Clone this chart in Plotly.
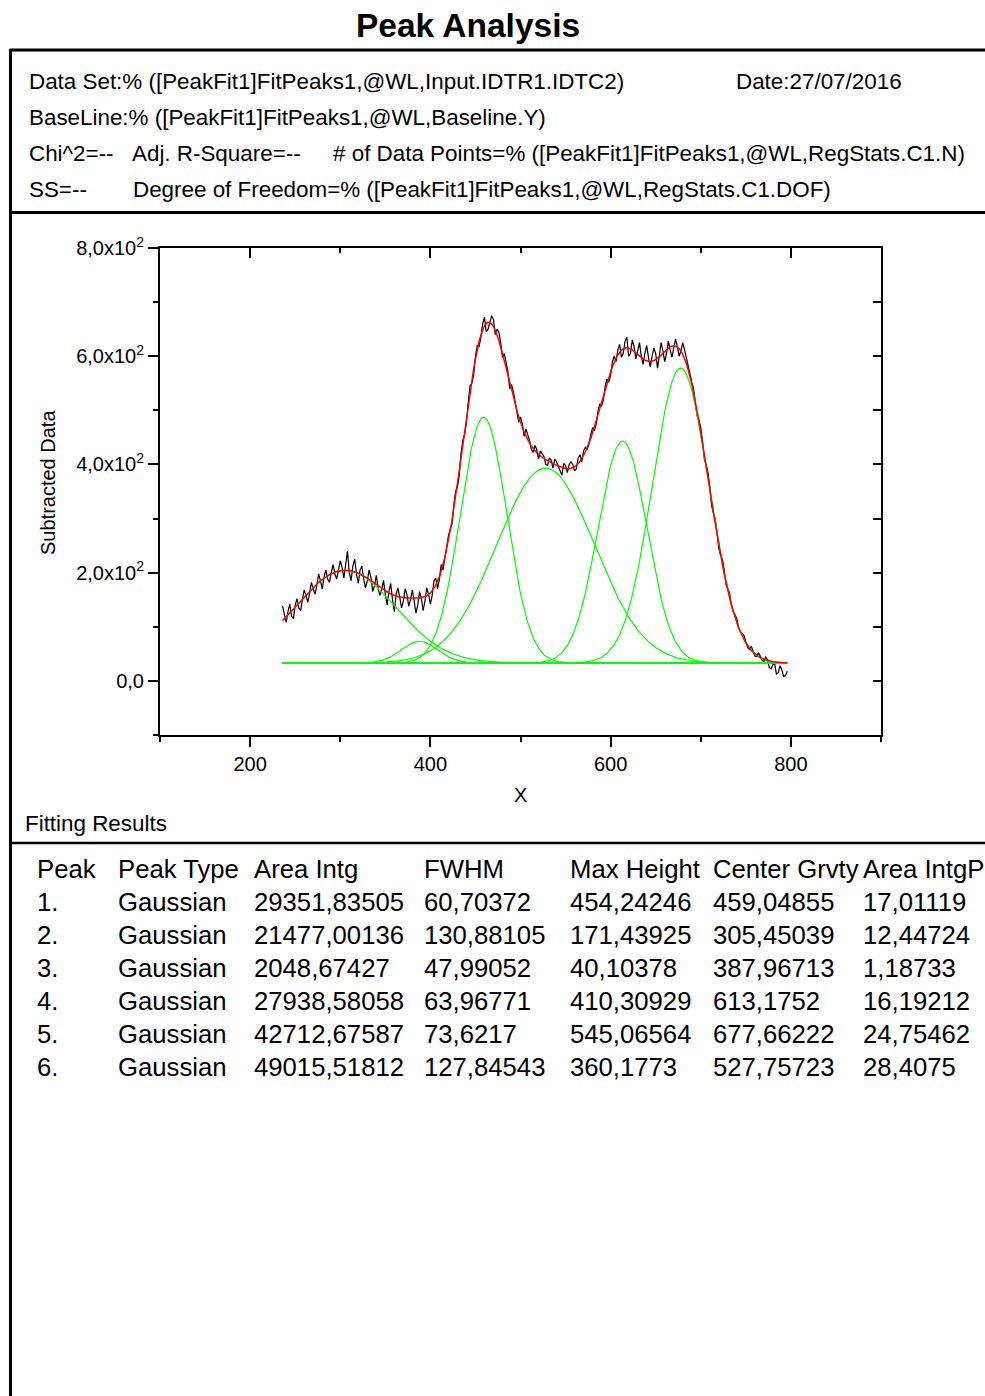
import numpy as np
import plotly.graph_objects as go

# ------------------------------- Datos -------------------------------

# Tabla de resultados del ajuste
pico = ['1.', '2.', '3.', '4.', '5.', '6.']
tipo_pico = ['Gaussian', 'Gaussian', 'Gaussian', 'Gaussian', 'Gaussian', 'Gaussian']
area_intg = [29351.83505, 21477.00136, 2048.67427, 27938.58058, 42712.67587, 49015.51812]
fwhm = [60.70372, 130.88105, 47.99052, 63.96771, 73.6217, 127.84543]
altura_max = [454.24246, 171.43925, 40.10378, 410.30929, 545.06564, 360.1773]
centro = [459.04855, 305.45039, 387.96713, 613.1752, 677.66222, 527.75723]
area_intgp = [17.01119, 12.44724, 1.18733, 16.19212, 24.75462, 28.4075]

encabezados = ['Peak', 'Peak Type', 'Area Intg', 'FWHM', 'Max Height', 'Center Grvty', 'Area IntgP']

# Linea base
linea_base = 33

# Datos restados (cada 2 unidades de X, de 236 a 796)
x_datos = list(range(236, 797, 2))
y_datos = [138, 125, 108, 128, 142, 120, 115, 140, 152, 135, 130, 150, 168, 158, 145, 162, 182, 170, 160, 176,
           198, 185, 170, 192, 205, 188, 182, 200, 215, 198, 188, 205, 222, 210, 190, 215, 240, 200, 185, 212,
           225, 198, 180, 205, 212, 188, 172, 185, 205, 192, 165, 176, 195, 172, 158, 168, 186, 160, 140, 165,
           180, 150, 128, 160, 172, 155, 135, 148, 170, 160, 138, 150, 168, 148, 125, 140, 165, 152, 130, 148,
           172, 160, 142, 158, 185, 190, 170, 188, 215, 205, 225, 250, 268, 280, 290, 325, 350, 358, 380, 420,
           445, 455, 478, 515, 545, 550, 565, 600, 620, 618, 635, 660, 672, 645, 650, 662, 675, 668, 640, 650,
           645, 625, 598, 605, 590, 572, 540, 548, 535, 515, 495, 478, 488, 475, 452, 465, 455, 445, 428, 422,
           435, 428, 410, 425, 420, 415, 400, 398, 412, 408, 393, 410, 405, 395, 388, 380, 402, 398, 385, 400,
           405, 400, 388, 392, 412, 418, 405, 425, 432, 428, 438, 455, 468, 462, 475, 498, 512, 508, 520, 545,
           558, 552, 565, 590, 600, 590, 612, 622, 598, 605, 628, 635, 600, 605, 630, 618, 595, 610, 625, 600,
           585, 605, 620, 598, 580, 600, 615, 605, 578, 600, 625, 610, 590, 605, 628, 612, 598, 615, 632, 618,
           600, 610, 625, 612, 595, 580, 568, 552, 540, 512, 490, 482, 468, 442, 410, 400, 385, 360, 325, 310,
           300, 275, 245, 232, 225, 205, 178, 170, 162, 140, 128, 122, 115, 98, 90, 88, 84, 72, 62, 58,
           64, 56, 46, 45, 52, 46, 38, 36, 44, 40, 25, 22, 30, 32, 12, 15, 28, 20, 8, 10,
           18]

# Tamano de la pagina
W = 985
H = 1396


# ------------------------------- Funciones -------------------------------

# Pasa un numero al formato con coma decimal
def coma(v):
    return str(v).replace('.', ',')


# Curva gaussiana de un pico a partir de los parametros de la tabla
def gaussiana(x, c, w, h):
    return h * np.exp(-4 * np.log(2) * (x - c) ** 2 / w ** 2)


# Texto en coordenadas de pixel de la pagina (se corrige el relleno de la anotacion)
def texto(t, x, y, size = 22.4, anchor = 'left'):
    if anchor == 'left':
        x = x - 2
    return dict(text = t, x = x / W, y = 1 - y / H, xref = 'paper', yref = 'paper',
                xanchor = anchor, yanchor = 'middle', showarrow = False,
                font = dict(size = size, color = 'black'))


# Linea en coordenadas de pixel
def linea(x0, y0, x1, y1, ancho = 3):
    return dict(type = 'line', xref = 'paper', yref = 'paper',
                x0 = x0 / W, x1 = x1 / W, y0 = 1 - y0 / H, y1 = 1 - y1 / H,
                line = dict(color = 'black', width = ancho))


# ------------------------------- Grafico -------------------------------

x_fit = np.linspace(min(x_datos), max(x_datos), 561)
componentes = [gaussiana(x_fit, c, w, h) for c, w, h in zip(centro, fwhm, altura_max)]
ajuste = linea_base + np.sum(componentes, axis = 0)

fig = go.Figure()

fig.add_trace(go.Scatter(x = x_datos, y = y_datos, mode = 'lines',
                         line = dict(color = 'black', width = 1.2), showlegend = False))

fig.add_trace(go.Scatter(x = [x_fit[0], x_fit[-1]], y = [linea_base, linea_base], mode = 'lines',
                         line = dict(color = '#00ff00', width = 2), showlegend = False))

for comp in componentes:
    fig.add_trace(go.Scatter(x = x_fit, y = linea_base + comp, mode = 'lines',
                             line = dict(color = '#00ff00', width = 1.2), showlegend = False))

fig.add_trace(go.Scatter(x = x_fit, y = ajuste, mode = 'lines',
                         line = dict(color = '#ff0000', width = 1.5), showlegend = False))

# traza vacia para los ejes de arriba y derecha
fig.add_trace(go.Scatter(x = [None], y = [None], xaxis = 'x2', yaxis = 'y2', showlegend = False))

dom_x = [160 / W, 881 / W]
dom_y = [1 - 735 / H, 1 - 248 / H]

eje = dict(showline = True, linecolor = 'black', linewidth = 2, showgrid = False, zeroline = False,
           tickcolor = 'black', tickwidth = 2, automargin = False)

fig.update_layout(
    width = W, height = H,
    margin = dict(l = 0, r = 0, t = 0, b = 0, pad = 0),
    paper_bgcolor = 'white', plot_bgcolor = 'white',
    font = dict(family = 'Liberation Sans, Arial, sans-serif', size = 20, color = 'black'),
    xaxis = dict(eje, domain = dom_x, range = [100, 900], anchor = 'y',
                 ticks = 'outside', ticklen = 10, tickmode = 'array', tickvals = [200, 400, 600, 800],
                 ticktext = ['200', '400', '600', '800'],
                 minor = dict(ticks = 'outside', ticklen = 5, tickwidth = 2, tickcolor = 'black',
                              tickvals = [100, 300, 500, 700, 900])),
    xaxis2 = dict(eje, domain = dom_x, range = [100, 900], anchor = 'y', overlaying = 'x', side = 'top',
                  ticks = 'inside', ticklen = 10, tickmode = 'array', tickvals = [200, 400, 600, 800],
                  showticklabels = False,
                  minor = dict(ticks = 'inside', ticklen = 5, tickwidth = 2, tickcolor = 'black',
                               tickvals = [100, 300, 500, 700, 900])),
    yaxis = dict(eje, domain = dom_y, range = [-100, 800], anchor = 'x',
                 ticks = 'outside', ticklen = 10, tickmode = 'array', tickvals = [0, 200, 400, 600, 800],
                 ticktext = ['0,0', '2,0x10<sup>2</sup>', '4,0x10<sup>2</sup>', '6,0x10<sup>2</sup>',
                             '8,0x10<sup>2</sup>'],
                 minor = dict(ticks = 'outside', ticklen = 5, tickwidth = 2, tickcolor = 'black',
                              tickvals = [-100, 100, 300, 500, 700])),
    yaxis2 = dict(eje, domain = dom_y, range = [-100, 800], anchor = 'x', overlaying = 'y', side = 'right',
                  ticks = 'inside', ticklen = 8, tickmode = 'array',
                  tickvals = [-100, 0, 100, 200, 300, 400, 500, 600, 700, 800], showticklabels = False),
)

# Titulos de ejes y del informe
anot = [
    dict(texto('Subtracted Data', 48, 483, 20, 'center'), textangle = -90),
    texto('X', 520, 795, 20, 'center'),
    texto('<b>Peak Analysis</b>', 468, 25, 33.5, 'center'),
]

# Cabecera del informe
anot += [
    texto('Data Set:% ([PeakFit1]FitPeaks1,@WL,Input.IDTR1.IDTC2)', 29, 82),
    texto('Date:27/07/2016', 736, 82),
    texto('BaseLine:% ([PeakFit1]FitPeaks1,@WL,Baseline.Y)', 29, 117),
    texto('Chi^2=--', 29, 153),
    texto('Adj. R-Square=--', 132, 153),
    texto('# of Data Points=% ([PeakFit1]FitPeaks1,@WL,RegStats.C1.N)', 333, 153),
    texto('SS=--', 29, 189),
    texto('Degree of Freedom=% ([PeakFit1]FitPeaks1,@WL,RegStats.C1.DOF)', 133, 189),
    texto('Fitting Results', 25, 823),
]

# Tabla de resultados
col_x = [37, 118, 254, 424, 570, 713, 863]
for t, cx in zip(encabezados, col_x):
    anot.append(texto(t, cx, 869, 25.7))

columnas = [pico, tipo_pico,
            [coma(v) for v in area_intg], [coma(v) for v in fwhm], [coma(v) for v in altura_max],
            [coma(v) for v in centro], [coma(v) for v in area_intgp]]
for i in range(len(pico)):
    fy = 902 + i * 33
    for col, cx in zip(columnas, col_x):
        anot.append(texto(col[i], cx, fy, 25.7))

fig.update_layout(annotations = anot)

fig.update_layout(shapes = [
    linea(10, 50, 985, 50),
    linea(10.5, 49, 10.5, 1396),
    linea(10, 212.5, 985, 212.5),
    linea(10, 843, 985, 843, 2.5),
])

fig.write_html("out.html", config = {'displayModeBar': False},
               post_script = "document.body.style.margin = '0';")
